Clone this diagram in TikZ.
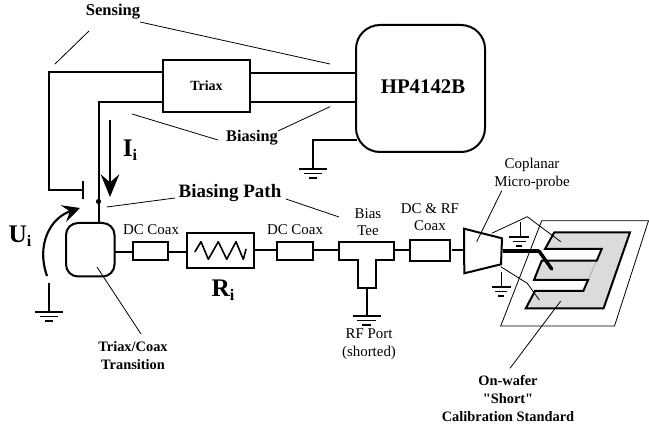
\documentclass[tikz,border=0pt]{standalone}
\usepackage{fontspec}
\setmainfont{Liberation Serif}
\newfontfamily\plainquote{Liberation Serif}[Ligatures=TeXOff]
\usetikzlibrary{arrows.meta}
\tikzset{
  wire/.style={line width=1.5pt},
  thin line/.style={line width=0.6pt},
  boxed/.style={draw,line width=1.5pt,fill=white},
  lbl/.style={inner sep=0pt,align=center,font=\fontsize{11.2}{13.2}\selectfont},
  blbl/.style={inner sep=0pt,align=center,font=\fontsize{10.8}{13.5}\selectfont\bfseries},
  big/.style={inner sep=0pt,font=\fontsize{19}{19}\selectfont\bfseries},
}
\newcommand{\gnd}[3]{% x y halfwidth
  \draw[line width=1.6pt] (#1-#3,#2) -- (#1+#3,#2);
  \draw[line width=1.1pt] (#1-#3*.65,#2+4.5) -- (#1+#3*.65,#2+4.5);
  \draw[line width=.8pt] (#1-#3*.3,#2+9) -- (#1+#3*.3,#2+9);
}
\newcommand{\subi}{\raisebox{-3pt}{\fontsize{12}{12}\selectfont i}}
\begin{document}
\begin{tikzpicture}[x=0.75pt,y=-0.75pt]
\useasboundingbox (0,0) rectangle (649,427);
\fill[white] (0,0) rectangle (649,427);
% wafer
\draw[thin line] (541.7,220.7) -- (648.5,220.7) -- (614.5,326) -- (500.7,326) -- cycle;
\fill[black!14] (554.3,232.3) -- (630,232.3) -- (603.5,308.5) -- (525.7,308.5) -- (535,291) -- (583.3,291) -- (588,280) -- (534,280) -- (541.7,260.7) -- (596.7,260.7) -- (601.7,249) -- (545,249) -- cycle;
\draw[black!35,line width=.5pt] (596.7,260.7) -- (588,280);
\draw[line width=1.5pt,line join=miter] (596.7,260.7) -- (601.7,249) -- (545,249) -- (554.3,232.3) -- (630,232.3) -- (603.5,308.5) -- (525.7,308.5) -- (535,291) -- (583.3,291) -- (588,280) -- (534,280) -- (541.7,260.7) -- cycle;
% wires
\draw[wire] (163,72) -- (49,72) -- (49,190) -- (83,190);
\draw[wire] (83,181) -- (83,199);
\draw[wire] (163,102) -- (99,102) -- (99,223);
\draw[wire] (250,73.5) -- (357,73.5);
\draw[wire] (250,102) -- (357,102);
\draw[wire] (357,140) -- (313,140) -- (313,169);
\gnd{313}{169}{14}
\draw[wire] (115,252) -- (133,252);
\draw[wire] (168,252) -- (187,252);
\draw[wire] (254,250) -- (277,250);
\draw[wire] (312,250) -- (339,250);
\draw[wire] (394,250) -- (410,250);
\draw[wire] (452,250) -- (464,250);
\draw[wire] (366.5,288) -- (366.5,316);
\gnd{366.5}{316}{14}
\fill (98.5,201.5) circle (2.6);
% boxes
\node[boxed,minimum width=65.25pt,minimum height=39pt,inner sep=0pt,font=\fontsize{10.5}{12}\selectfont\bfseries] (triax) at (206.5,86) {Triax};
\draw[boxed,rounded corners=18pt] (356,25) rectangle (485,152);
\node[inner sep=0pt,font=\fontsize{15.6}{16}\selectfont\bfseries] (hp) at (423,87) {HP4142B};
\draw[boxed,rounded corners=9pt] (66,223) rectangle (114.5,276.5);
\draw[boxed] (133,242) rectangle (168,260);
\draw[boxed] (187,233) rectangle (254,268);
\draw[line width=1.2pt,line join=round,line cap=round] (195,251.7) -- (201,241.7) -- (208.3,259.3) -- (218.3,241.7) -- (226.7,259.3) -- (236,241.7) -- (243.3,259.3) -- (246,249.3);
\draw[boxed] (277,242) rectangle (312.5,260);
\draw[boxed] (339,242.3) -- (394,242.3) -- (394,260.3) -- (376,260.3) -- (376,287.7) -- (357.7,287.7) -- (357.7,260.3) -- (339,260.3) -- cycle;
\draw[boxed] (410,240) rectangle (450,260.7);
\draw[boxed,line join=miter] (464,228.7) -- (502,238.3) -- (501,264.3) -- (464.3,273.3) -- cycle;
% probe tip
\draw[line width=2.6pt] (503,251) -- (539,251);
\draw[line width=2.6pt,line cap=round] (539,251) -- (551.7,269);
% ground left, and U arc
\draw[wire] (49,283) -- (49,312);
\gnd{49}{312}{14}
\draw[line width=1.6pt,-{Stealth[length=13pt,width=13pt,inset=5pt]}] (47,276) .. controls (36,245) and (50,218) .. (80,208);
% I arrow
\draw[wire,-{Stealth[length=17pt,width=14pt,inset=6pt]}] (110,120) -- (110,197);
% ground near probe
\draw[thin line] (520,221.7) -- (520,236.7);
\gnd{519}{237}{10}
\draw[thin line] (501.7,272) -- (501.7,287);
\gnd{501}{287}{9.5}
% leader lines
\draw[thin line] (140,22) -- (330,64);
\draw[thin line] (89,31) -- (55,64);
\draw[thin line] (132,114) -- (218,140);
\draw[thin line] (278,131) -- (330,106.7);
\draw[thin line] (107,207) -- (175,198);
\draw[thin line] (286,199) -- (339,217);
\draw[thin line] (97,267) -- (141,334);
\draw[thin line] (501.7,190.7) -- (476.7,241.7);
\draw[thin line] (491.7,233.3) -- (527.3,216.7) -- (560.7,241.7);
\draw[thin line] (500.7,266.7) -- (527.3,283.3) -- (539.3,300);
\draw[thin line] (560.7,301) -- (510,368.3);
% labels
\node[blbl,font=\fontsize{12.4}{14}\selectfont\bfseries] (sensing) at (113,12) {Sensing};
\node[blbl,font=\fontsize{12.2}{14}\selectfont\bfseries] (biasing) at (252,138) {Biasing};
\node[blbl,font=\fontsize{14.2}{16}\selectfont\bfseries] (bpath) at (230,193) {Biasing Path};
\node[big] (ii) at (130,150) {I\subi};
\node[big] (ui) at (20,236) {U\subi};
\node[big] (ri) at (223,290) {R\subi};
\node[lbl] (dc1) at (151,230) {DC Coax};
\node[lbl] (dc2) at (295,230) {DC Coax};
\node[lbl] (bt) at (368,222) {Bias\\Tee};
\node[lbl] (dcrf) at (430,217) {DC \& RF\\Coax};
\node[lbl] (cop) at (532,174) {Coplanar\\Micro-probe};
\node[lbl] (rf) at (369,344) {RF Port\\(shorted)};
\node[blbl] (trans) at (133,356) {Triax/Coax\\Transition};
\node[blbl] (cal) at (508,398) {On-wafer\\{\plainquote\bfseries "Short"}\\Calibration Standard};
\end{tikzpicture}
\end{document}
